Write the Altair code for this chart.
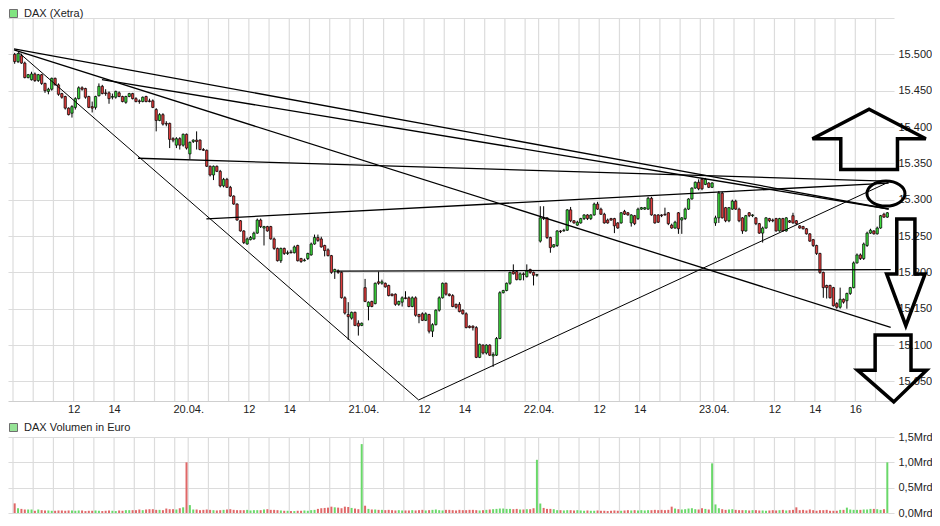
import altair as alt
import pandas as pd

FONT = "Liberation Sans"
TXT = "#222222"
GRID = "#dcdcdc"
UP_COL, DOWN_COL = "#3ddc3d", "#e03c3c"
VUP_COL, VDOWN_COL = "#6ad86a", "#e06868"

days = ["19.04.", "20.04.", "21.04.", "22.04.", "23.04."]
SLOTS_PER_DAY = 52          # 10-minute candles, 09:00 - 17:30
labelled_hours = [12, 14]
last_day_extra_hours = [16]
price_title = "DAX (Xetra)"
volume_title = "DAX Volumen in Euro"

# candles per 10-minute slot: (open, high, low, close)
c19 = [(15500,15502,15487,15490),(15490,15502,15488,15501),(15498,15501,15487,15488),(15488,15490,15467,15468),
       (15468,15473,15467,15472),(15465,15476,15464,15473),(15473,15475,15462,15464),(15464,15473,15462,15472),
       (15472,15473,15458,15460),(15460,15461,15447,15450),(15449,15454,15445,15452),(15452,15468,15450,15467),
       (15467,15468,15457,15458),(15458,15460,15443,15445),(15446,15447,15439,15441),(15442,15443,15424,15426),
       (15426,15427,15416,15417),(15419,15430,15413,15428),(15427,15441,15424,15439),(15439,15456,15438,15454),
       (15454,15456,15450,15452),(15453,15454,15439,15441),(15442,15443,15426,15427),(15428,15435,15420,15426),
       (15427,15443,15424,15442),(15443,15460,15442,15456),(15456,15458,15445,15446),(15447,15452,15443,15446),
       (15447,15449,15432,15439),(15441,15446,15438,15442),(15441,15450,15439,15449),(15447,15449,15441,15442),
       (15442,15443,15434,15435),(15434,15443,15432,15442),(15442,15447,15441,15446),(15446,15447,15438,15439),
       (15439,15441,15434,15435),(15436,15438,15432,15435),(15435,15442,15434,15441),(15442,15443,15434,15435),
       (15436,15439,15434,15435),(15436,15438,15426,15427),(15424,15426,15394,15409),(15409,15419,15408,15417),
       (15417,15419,15402,15404),(15405,15408,15401,15404),(15405,15406,15371,15383),(15384,15386,15379,15382),
       (15375,15386,15371,15384),(15384,15386,15369,15375),(15375,15391,15373,15390),(15390,15391,15369,15371)]
c20 = [(15363,15380,15356,15379),(15380,15383,15378,15382),(15382,15394,15369,15380),(15382,15383,15368,15369),
       (15369,15371,15367,15368),(15368,15369,15345,15346),(15346,15347,15332,15334),(15334,15347,15327,15346),
       (15346,15347,15338,15339),(15339,15341,15317,15319),(15319,15330,15317,15328),(15328,15330,15316,15317),
       (15317,15319,15304,15305),(15305,15306,15293,15294),(15294,15295,15271,15272),(15271,15272,15256,15257),
       (15257,15258,15239,15241),(15239,15248,15238,15246),(15245,15250,15244,15248),(15246,15256,15245,15254),
       (15254,15274,15253,15272),(15272,15274,15261,15263),(15261,15264,15237,15263),(15263,15264,15256,15257),
       (15263,15264,15245,15246),(15246,15248,15231,15233),(15233,15234,15215,15216),(15216,15234,15213,15233),
       (15233,15234,15224,15226),(15226,15230,15224,15227),(15228,15231,15226,15227),(15227,15237,15226,15235),
       (15237,15238,15215,15216),(15219,15220,15213,15215),(15216,15219,15215,15217),(15219,15227,15217,15226),
       (15224,15241,15223,15239),(15239,15252,15238,15248),(15248,15252,15242,15244),(15246,15249,15234,15235),
       (15237,15238,15222,15230),(15231,15233,15222,15223),(15223,15224,15198,15200),(15201,15205,15191,15204),
       (15202,15204,15198,15200),(15200,15201,15164,15165),(15165,15167,15142,15144),(15142,15159,15107,15139),
       (15137,15146,15135,15145),(15145,15146,15126,15127),(15130,15134,15113,15126),(15127,15131,15126,15130)]
c21 = [(15179,15191,15159,15160),(15153,15160,15134,15159),(15160,15161,15152,15153),(15157,15186,15156,15185),
       (15187,15201,15183,15185),(15185,15190,15183,15187),(15185,15186,15179,15180),(15182,15183,15167,15168),
       (15170,15171,15167,15168),(15170,15171,15154,15156),(15156,15161,15154,15160),(15159,15167,15153,15165),
       (15165,15174,15163,15164),(15165,15167,15152,15153),(15153,15167,15152,15165),(15165,15167,15139,15141),
       (15142,15143,15130,15139),(15143,15145,15133,15134),(15134,15145,15133,15143),(15142,15143,15116,15119),
       (15119,15130,15111,15128),(15128,15149,15127,15148),(15148,15167,15146,15165),(15165,15186,15164,15185),
       (15185,15186,15168,15170),(15170,15171,15167,15168),(15168,15170,15152,15153),(15156,15157,15150,15152),
       (15156,15159,15145,15146),(15148,15149,15142,15143),(15143,15145,15123,15124),(15126,15127,15123,15124),
       (15126,15127,15120,15124),(15124,15126,15082,15083),(15083,15102,15082,15101),(15100,15101,15087,15089),
       (15089,15101,15087,15100),(15100,15101,15085,15086),(15085,15090,15070,15087),(15086,15111,15085,15109),
       (15109,15174,15108,15172),(15172,15176,15171,15175),(15175,15186,15174,15185),(15185,15201,15183,15200),
       (15201,15211,15197,15198),(15201,15202,15189,15190),(15190,15200,15189,15198),(15198,15200,15189,15197),
       (15194,15211,15193,15202),(15204,15205,15198,15200),(15200,15201,15182,15196),(15196,15198,15194,15197)]
c22 = [(15243,15291,15241,15275),(15275,15291,15272,15274),(15275,15276,15246,15248),(15248,15249,15227,15234),
       (15235,15239,15234,15238),(15237,15258,15235,15257),(15257,15258,15254,15256),(15257,15260,15256,15258),
       (15258,15287,15257,15286),(15286,15290,15269,15271),(15271,15272,15267,15268),(15265,15271,15264,15269),
       (15268,15275,15267,15274),(15274,15280,15272,15279),(15279,15280,15272,15274),(15274,15280,15272,15279),
       (15279,15296,15278,15294),(15294,15297,15286,15287),(15287,15289,15279,15280),(15280,15282,15267,15268),
       (15272,15274,15267,15268),(15274,15275,15271,15272),(15274,15275,15254,15264),(15268,15269,15260,15261),
       (15268,15283,15267,15282),(15284,15286,15279,15280),(15282,15283,15278,15279),(15268,15280,15263,15279),
       (15278,15279,15265,15267),(15274,15289,15272,15287),(15287,15290,15286,15289),(15287,15290,15286,15289),
       (15287,15304,15286,15302),(15302,15304,15278,15279),(15279,15280,15267,15268),(15279,15280,15268,15269),
       (15279,15280,15276,15278),(15280,15289,15278,15279),(15282,15283,15265,15267),(15265,15267,15260,15261),
       (15261,15271,15260,15269),(15282,15283,15253,15260),(15272,15276,15253,15275),(15274,15289,15272,15287),
       (15287,15302,15286,15301),(15301,15317,15300,15316),(15316,15325,15315,15324),(15324,15328,15313,15315),
       (15328,15330,15313,15315),(15321,15330,15320,15328),(15323,15324,15316,15317),(15317,15324,15316,15323)]
c23 = [(15268,15278,15264,15275),(15275,15312,15268,15309),(15309,15311,15274,15275),(15289,15290,15269,15271),
       (15271,15290,15269,15289),(15287,15300,15286,15298),(15298,15300,15286,15287),(15287,15289,15269,15271),
       (15275,15276,15253,15257),(15257,15279,15256,15278),(15282,15283,15276,15278),(15278,15280,15276,15279),
       (15275,15276,15265,15267),(15267,15268,15253,15254),(15254,15263,15241,15261),(15261,15276,15260,15275),
       (15274,15275,15269,15271),(15272,15274,15269,15271),(15274,15275,15256,15257),(15257,15275,15256,15274),
       (15274,15275,15256,15257),(15257,15276,15256,15275),(15271,15272,15268,15269),(15278,15282,15267,15268),
       (15271,15272,15265,15267),(15264,15265,15260,15261),(15263,15264,15259,15260),(15260,15261,15252,15253),
       (15253,15254,15242,15243),(15245,15246,15235,15237),(15237,15238,15224,15226),(15226,15227,15198,15200),
       (15200,15201,15165,15179),(15182,15183,15164,15179),(15182,15183,15164,15165),(15179,15180,15153,15154),
       (15157,15159,15150,15152),(15152,15179,15150,15163),(15163,15164,15157,15159),(15161,15172,15150,15171),
       (15171,15180,15169,15179),(15179,15215,15178,15213),(15213,15226,15212,15224),(15224,15226,15217,15219),
       (15219,15241,15217,15239),(15237,15256,15235,15254),(15254,15260,15253,15258),(15257,15258,15252,15253),
       (15253,15263,15252,15261),(15261,15279,15260,15278),(15280,15282,15275,15276),(15276,15283,15275,15282)]

# volume per slot, million euro
v19 = [190,94,81,69,69,69,44,69,56,50,50,44,44, 50,50,44,50,50,44,50,50,38,44,44,50,44,
       38,44,50,44,38,50,44,56,56,56,56,69,56, 69,75,75,62,62,56,88,75,75,69,94,112,1000]
v20 = [156,69,69,56,62,69,62,56,50,56,62,69,75, 62,56,56,56,62,50,56,56,56,69,75,62,62,
       56,50,44,44,38,38,44,44,50,44,56,62,81, 94,100,106,125,112,106,94,125,119,100,88,75,1360]
v21 = [144,81,69,69,62,62,56,62,56,50,56,50,50, 50,56,50,56,62,50,56,62,69,56,50,62,62,
       56,50,62,56,56,62,62,56,50,56,62,69,75, 81,88,88,81,81,75,81,69,69,75,75,94,1050]
v22 = [187,100,81,81,75,56,56,50,56,56,50,56,50, 44,50,44,44,50,44,44,38,44,50,44,44,50,
       56,50,56,50,56,50,56,56,62,56,62,56,62, 125,88,75,69,75,88,94,75,69,94,81,69,980]
v23 = [169,94,75,62,69,75,62,56,56,56,50,56,56, 50,50,44,50,56,50,56,62,50,56,62,112,56,
       62,50,69,56,44,56,56,62,44,44,44,62,62, 106,69,62,62,62,69,69,81,81,75,62,75,1000]

candles = c19 + c20 + c21 + c22 + c23
volumes = v19 + v20 + v21 + v22 + v23
assert len(candles) == len(volumes) == SLOTS_PER_DAY * len(days)

df = pd.DataFrame([
    dict(xc=i + 0.5, o=o, h=h, l=l, c=c, v=v, dir="up" if c >= o else "down")
    for i, ((o, h, l, c), v) in enumerate(zip(candles, volumes))
])

# hour gridlines and axis labels
tick_slots = [d * SLOTS_PER_DAY + (hh - 9) * 6 for d in range(len(days)) for hh in range(9, 18)]
tick_text = {}
for d, name in enumerate(days):
    base = d * SLOTS_PER_DAY
    if d > 0:
        tick_text[base] = name
    for hh in labelled_hours:
        tick_text[base + (hh - 9) * 6] = str(hh)
for hh in last_day_extra_hours:
    tick_text[(len(days) - 1) * SLOTS_PER_DAY + (hh - 9) * 6] = str(hh)
label_slots = sorted(tick_text)
x_label_expr = " : ".join(f"datum.value == {s} ? '{tick_text[s]}'" for s in label_slots) + " : ''"
grid_df = pd.DataFrame({"s": tick_slots})

price_min, price_max = 15023, 15550
price_ticks = list(range(15050, 15551, 50))
vol_ticks = [0, 500, 1000, 1500]

# drawn trend lines (time slot, price)
heavy = pd.DataFrame(dict(t0=[0.3, 26.4, 0.3, 37.1, 57.4, 96.0],
                          p0=[15507.6, 15465.1, 15506.2, 15357.0, 15273.5, 15201.7],
                          t1=[259.9, 259.9, 260.5, 259.1, 259.9, 260.5],
                          p1=[15287.2, 15287.2, 15124.3, 15325.5, 15322.8, 15203.7]))
thin = pd.DataFrame(dict(t0=[1.45, 120.4], p0=[15503.5, 15024.4],
                         t1=[120.4, 259.9], p1=[15024.4, 15324.2]))

# drawn symbols: up arrow, two down arrows, ellipse (anchor time slot, price)
ann_t = [254.1, 265.0, 260.9, 259.1]
ann_p = [15383.0, 15200.0, 15067.8, 15308.4]
ann_shapes = [
    ("M 0 -0.53 L 1 -0.01 L 0.5 -0.01 L 0.5 0.53 L -0.5 0.53 L -0.5 -0.01 L -1 -0.01 Z", 12860, 3.5),
    ("M -0.17 -1 L 0.17 -1 L 0.17 0.03 L 0.36 0.03 L 0 1 L -0.36 0.03 L -0.17 0.03 Z", 11385, 3.5),
    ("M -0.49 -0.97 L 0.55 -0.97 L 0.55 0.05 L 1 0.05 L 0.05 0.97 L -1 0.05 L -0.49 0.05 Z", 4760, 3.5),
    ("M -1 0 A 1 0.66 0 1 0 1 0 A 1 0.66 0 1 0 -1 0 Z", 1444, 3.0),
]

PAD_TOP = 10
W, H = 886, 495
PRICE_H = 383
VOL_TOP, VOL_BOT = 419, 495

xscale = alt.Scale(domain=[0, SLOTS_PER_DAY * len(days)], nice=False, zero=False)
xaxis = alt.Axis(values=label_slots, labelExpr=x_label_expr, grid=False, ticks=False,
                 domain=True, domainColor="#cfcfcf", domainWidth=1.2, offset=PRICE_H - H,
                 labelPadding=2, labelFontSize=11, labelFont=FONT, labelColor=TXT,
                 labelFlush=False, labelOverlap=False, title=None)
pscale = alt.Scale(domain=[price_min, price_max], range=[PRICE_H, 0], nice=False, zero=False)
paxis = alt.Axis(orient="right", values=price_ticks,
                 labelExpr=f"datum.value >= {price_max} ? '' : replace(format(datum.value, ',d'), ',', '.')",
                 grid=True, gridColor=GRID, gridWidth=1.2, domain=False, ticks=False, tickSize=0,
                 labelPadding=4, labelFontSize=11, labelFont=FONT, labelColor=TXT,
                 labelFlush=False, labelOverlap=False, title=None)
vscale = alt.Scale(domain=[0, 1500], range=[VOL_BOT, VOL_TOP], nice=False, zero=True)
vaxis = alt.Axis(orient="right", values=vol_ticks,
                 labelExpr="replace(format(datum.value / 1000, '.1f'), '.', ',') + 'Mrd'",
                 grid=True, gridColor=GRID, gridWidth=1.2, domain=False, ticks=False, tickSize=0,
                 labelPadding=4, labelFontSize=11, labelFont=FONT, labelColor=TXT,
                 labelFlush=False, labelOverlap=False, title=None)


def legend_layer(name, color, y):
    return alt.Chart(pd.DataFrame({"name": [name]})).transform_filter("false").mark_square().encode(
        fill=alt.Fill("name:N", scale=alt.Scale(domain=[name], range=[color]),
                      legend=alt.Legend(title=None, orient="none", legendX=0, legendY=y,
                                        symbolType="square", symbolSize=64,
                                        symbolStrokeColor="#333333", symbolStrokeWidth=1,
                                        labelFontSize=11, labelFont=FONT, labelColor=TXT,
                                        labelOffset=5, padding=0)))


def X(field):
    return alt.X(field, axis=xaxis)


def PY(field):
    return alt.Y(field, axis=paxis)


def VY(field):
    return alt.Y(field, axis=vaxis)


price_grid = alt.Chart(grid_df).mark_rule(color=GRID, strokeWidth=1.2).encode(
    x=alt.X("s:Q", scale=xscale, axis=xaxis),
    y=alt.Y(datum=price_max, scale=pscale, axis=paxis),
    y2=alt.Y2(datum=price_min))
wicks = alt.Chart(df).mark_rule(color="black", strokeWidth=1).encode(
    x=X("xc:Q"), y=PY("l:Q"), y2="h:Q")
bodies = alt.Chart(df).mark_bar(size=2.3, stroke="black", strokeWidth=0.7).encode(
    x=X("xc:Q"), y=PY("o:Q"), y2="c:Q",
    color=alt.Color("dir:N", scale=alt.Scale(domain=["up", "down"], range=[UP_COL, DOWN_COL]), legend=None))
heavy_lines = alt.Chart(heavy).mark_rule(color="black", strokeWidth=1.3).encode(
    x=X("t0:Q"), y=PY("p0:Q"), x2="t1:Q", y2="p1:Q")
thin_lines = alt.Chart(thin).mark_rule(color="black", strokeWidth=1.0).encode(
    x=X("t0:Q"), y=PY("p0:Q"), x2="t1:Q", y2="p1:Q")
symbols = []
for t, p, (path, size, sw) in zip(ann_t, ann_p, ann_shapes):
    symbols.append(alt.Chart(pd.DataFrame({"t": [t], "p": [p]})).mark_point(
        shape=path, size=size, filled=False, stroke="black", strokeWidth=sw, opacity=1).encode(
        x=X("t:Q"), y=PY("p:Q")))

price_layer = alt.layer(price_grid, wicks, bodies, heavy_lines, thin_lines, *symbols,
                        legend_layer(price_title, "#4cd94c", -10))

vol_grid = alt.Chart(grid_df).mark_rule(color=GRID, strokeWidth=1.2).encode(
    x=X("s:Q"),
    y=alt.Y(datum=1500, scale=vscale, axis=vaxis),
    y2=alt.Y2(datum=0))
vol_bars = alt.Chart(df).mark_bar(size=2.0).encode(
    x=X("xc:Q"), y=VY("v:Q"),
    color=alt.Color("dir:N", scale=alt.Scale(domain=["up", "down"], range=[VUP_COL, VDOWN_COL]), legend=None))
vol_layer = alt.layer(vol_grid, vol_bars, legend_layer(volume_title, "#6ad86a", 404))

chart = alt.layer(price_layer, vol_layer).resolve_scale(
    y="independent", color="independent", fill="independent"
).resolve_axis(y="independent").resolve_legend(fill="independent").properties(
    width=W, height=H,
    autosize=alt.AutoSizeParams(type="none"),
    padding={"left": 0, "top": PAD_TOP, "right": 38, "bottom": 5},
    background="white",
).configure_view(stroke=None)

chart.save("out.html", embed_options={"renderer": "svg", "actions": False})
